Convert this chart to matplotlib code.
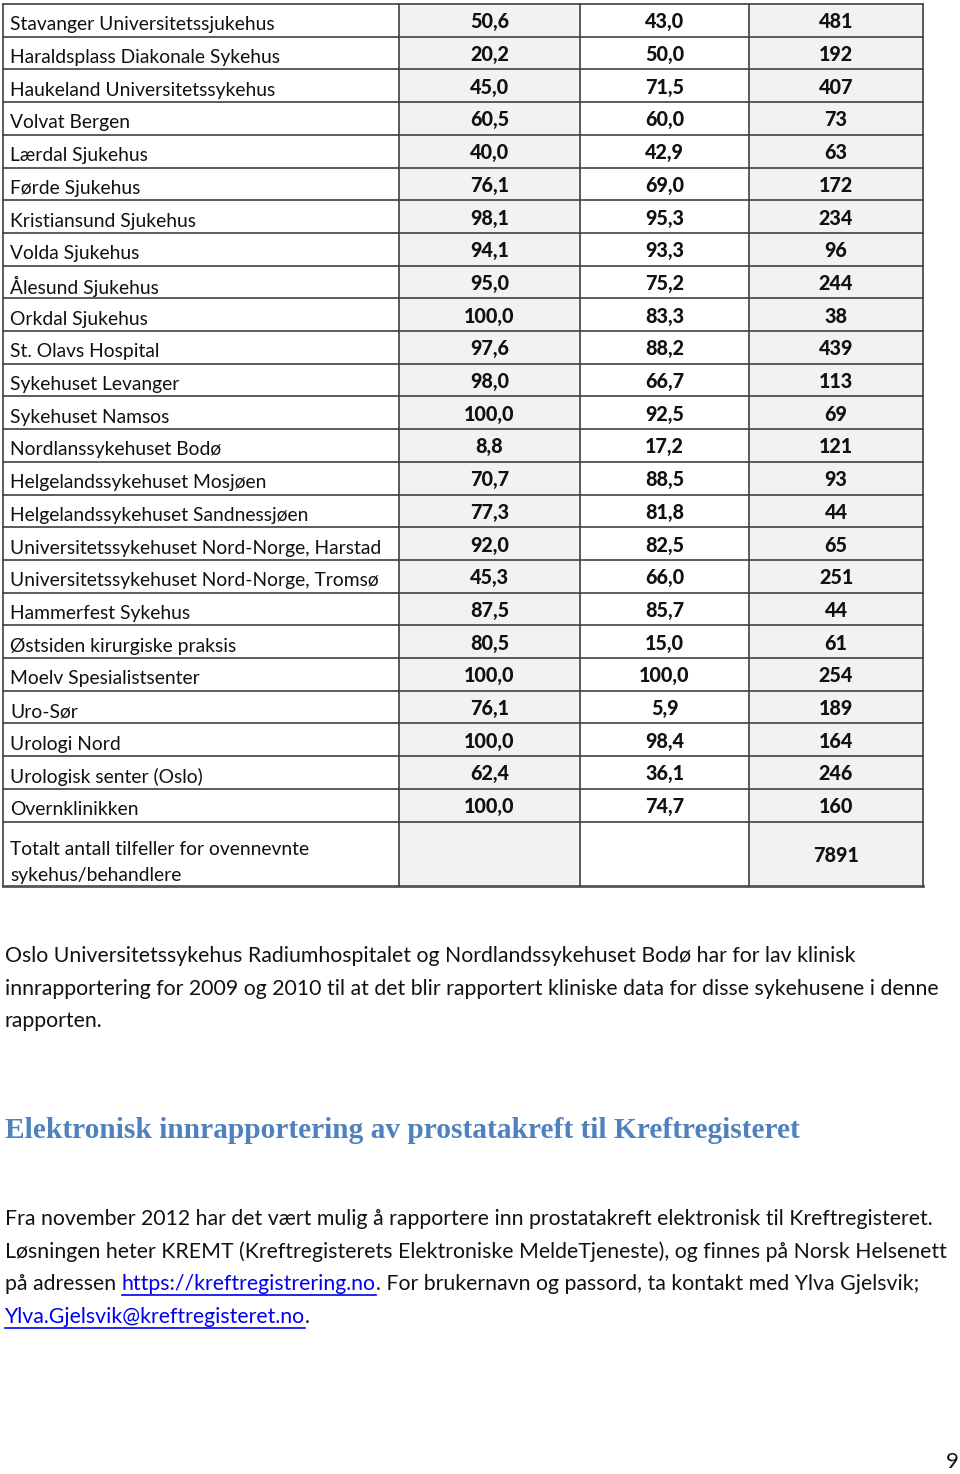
import matplotlib
matplotlib.use("Agg")
import matplotlib.pyplot as plt
from matplotlib.patches import Rectangle

names = ["Stavanger Universitetssjukehus", "Haraldsplass Diakonale Sykehus", "Haukeland Universitetssykehus",
         "Volvat Bergen", "Lærdal Sjukehus", "Førde Sjukehus", "Kristiansund Sjukehus", "Volda Sjukehus",
         "Ålesund Sjukehus", "Orkdal Sjukehus", "St. Olavs Hospital", "Sykehuset Levanger", "Sykehuset Namsos",
         "Nordlanssykehuset Bodø", "Helgelandssykehuset Mosjøen", "Helgelandssykehuset Sandnessjøen",
         "Universitetssykehuset Nord-Norge, Harstad", "Universitetssykehuset Nord-Norge, Tromsø",
         "Hammerfest Sykehus", "Østsiden kirurgiske praksis", "Moelv Spesialistsenter", "Uro-Sør",
         "Urologi Nord", "Urologisk senter (Oslo)", "Overnklinikken"]
col1 = [50.6, 20.2, 45.0, 60.5, 40.0, 76.1, 98.1, 94.1, 95.0, 100.0, 97.6, 98.0, 100.0, 8.8, 70.7, 77.3,
        92.0, 45.3, 87.5, 80.5, 100.0, 76.1, 100.0, 62.4, 100.0]
col2 = [43.0, 50.0, 71.5, 60.0, 42.9, 69.0, 95.3, 93.3, 75.2, 83.3, 88.2, 66.7, 92.5, 17.2, 88.5, 81.8,
        82.5, 66.0, 85.7, 15.0, 100.0, 5.9, 98.4, 36.1, 74.7]
col3 = [481, 192, 407, 73, 63, 172, 234, 96, 244, 38, 439, 113, 69, 121, 93, 44, 65, 251, 44, 61, 254,
        189, 164, 246, 160]
total_label = ["Totalt antall tilfeller for ovennevnte", "sykehus/behandlere"]
total_value = 7891

para1 = ["Oslo Universitetssykehus Radiumhospitalet og Nordlandssykehuset Bodø har for lav klinisk",
         "innrapportering for 2009 og 2010 til at det blir rapportert kliniske data for disse sykehusene i denne",
         "rapporten."]
heading = "Elektronisk innrapportering av prostatakreft til Kreftregisteret"
para2 = [
    [("Fra november 2012 har det vært mulig å rapportere inn prostatakreft elektronisk til Kreftregisteret.", False)],
    [("Løsningen heter KREMT (Kreftregisterets Elektroniske MeldeTjeneste), og finnes på Norsk Helsenett", False)],
    [("på adressen ", False), ("https://kreftregistrering.no", True),
     (". For brukernavn og passord, ta kontakt med Ylva Gjelsvik;", False)],
    [("Ylva.Gjelsvik@kreftregisteret.no", True), (".", False)],
]

FONT = ["Lato", "DejaVu Sans"]
W, H = 960, 1474
fig = plt.figure(figsize=(W / 100, H / 100), dpi=100)
ax = fig.add_axes([0, 0, 1, 1])
ax.set_xlim(0, W)
ax.set_ylim(H, 0)
ax.axis("off")

def fmt(v):
    return f"{v:.1f}".replace(".", ",")

xs = [3, 399, 580, 749, 923]
top = 4
rh = 32.7
nrows = len(names)
ytot = 886
grey = "#f2f2f2"
line = "#404040"

for ci in (1, 3):
    ax.add_patch(Rectangle((xs[ci], top), xs[ci + 1] - xs[ci], ytot - top, facecolor=grey, edgecolor="none", zorder=0))

fs_cell = 13.9
for i, nm in enumerate(names):
    yc = top + rh * (i + 0.5)
    ax.text(10, yc + 4.5, nm, fontsize=fs_cell, family=FONT, va="center", ha="left", color="#111111")
    for ci, val in enumerate([fmt(col1[i]), fmt(col2[i]), str(col3[i])]):
        xc = (xs[ci + 1] + xs[ci + 2]) / 2
        ax.text(xc, yc + 1.5, val, fontsize=fs_cell + 0.3, family=FONT, weight="black", va="center",
                ha="center", color="#111111")

ax.text(10, 849, total_label[0], fontsize=fs_cell, family=FONT, va="center", ha="left", color="#111111")
ax.text(10, 875, total_label[1], fontsize=fs_cell, family=FONT, va="center", ha="left", color="#111111")
ax.text((xs[3] + xs[4]) / 2, 855, str(total_value), fontsize=fs_cell + 0.3, family=FONT, weight="black",
        va="center", ha="center", color="#111111")

for i in range(nrows + 1):
    y = top + rh * i
    ax.plot([xs[0], xs[-1]], [y, y], color=line, lw=1.2, zorder=2)
ax.plot([xs[0], xs[-1]], [ytot, ytot], color="#555555", lw=2.0, zorder=2)
for x in xs:
    ax.plot([x, x], [top, ytot], color=line, lw=1.2, zorder=2)

fs_body = 15.3
for k, ln in enumerate(para1):
    ax.text(5, 956 + 32.5 * k, ln, fontsize=fs_body, family=FONT, va="center", ha="left", color="#111111")

ax.text(5, 1131, heading, fontsize=21.2, family=["Liberation Serif", "DejaVu Serif"], weight="bold",
        va="center", ha="left", color="#4f81bd")

fig.canvas.draw()
renderer = fig.canvas.get_renderer()
inv = ax.transData.inverted()
for k, segs in enumerate(para2):
    y = 1219 + 32.6 * k
    x = 5
    for txt, link in segs:
        t = ax.text(x, y, txt, fontsize=fs_body, family=FONT, va="center", ha="left",
                    color="#0000ee" if link else "#111111")
        bb = t.get_window_extent(renderer)
        (x0, _), (x1, _) = inv.transform([[bb.x0, bb.y0], [bb.x1, bb.y1]])
        if link:
            ax.plot([x0, x1], [y + 11, y + 11], color="#0000ee", lw=1.2)
        x = x1

ax.text(959, 1462, "9", fontsize=16, family=FONT, va="center", ha="right", color="#111111")

fig.savefig("out.png", dpi=100)
